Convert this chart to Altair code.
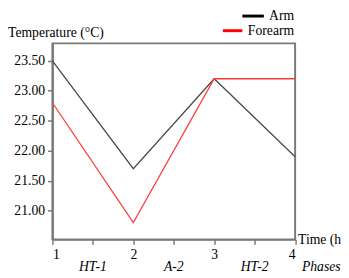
import altair as alt
import pandas as pd

times = [1, 2, 3, 4]
arm = [23.50, 21.70, 23.20, 21.90]
forearm = [22.80, 20.80, 23.20, 23.20]
series_names = ["Arm", "Forearm"]
series_colors = ["#4a4a4a", "#ff3b3b"]
phase_pos = [1.5, 2.5, 3.5]
phase_names = ["HT-1", "A-2", "HT-2"]
y_ticks = [21.0, 21.5, 22.0, 22.5, 23.0, 23.5]
x_ticks = [1, 1.5, 2, 2.5, 3, 3.5, 4]

rows = []
for t, a, f in zip(times, arm, forearm):
    rows.append({"time": t, "temp": a, "series": "Arm"})
    rows.append({"time": t, "temp": f, "series": "Forearm"})
df = pd.DataFrame(rows)

FONT = "Liberation Serif"
AX = "#7a7a7a"

xscale = alt.Scale(domain=[1, 4], nice=False, zero=False)
yscale = alt.Scale(domain=[20.52, 23.79], nice=False, zero=False)

lines = alt.Chart(df).mark_line(strokeWidth=1.3).encode(
    x=alt.X("time:Q", scale=xscale,
            axis=alt.Axis(values=x_ticks, title=None, grid=False,
                          labelExpr="datum.value % 1 == 0 ? datum.value : ''",
                          tickSize=5, labelPadding=4, domainColor=AX, tickColor=AX,
                          domainWidth=2, tickWidth=1.5,
                          labelFont=FONT, labelFontSize=14, labelColor="#000")),
    y=alt.Y("temp:Q", scale=yscale,
            axis=alt.Axis(values=y_ticks, format=".2f", title=None, grid=False,
                          tickSize=5, labelPadding=3, domainColor=AX, tickColor=AX,
                          domainWidth=2, tickWidth=1.5,
                          labelFont=FONT, labelFontSize=14, labelColor="#000")),
    color=alt.Color("series:N", scale=alt.Scale(domain=series_names, range=series_colors), legend=None),
)

phases = alt.Chart(pd.DataFrame({"p": phase_pos, "name": phase_names})).mark_text(
    font=FONT, fontSize=14, fontStyle="italic", baseline="middle", color="#000"
).encode(x=alt.X("p:Q", scale=xscale), y=alt.value(229), text="name:N")

normal_texts = pd.DataFrame({
    "label": ["Temperature (°C)", "Time (h)"],
    "px": [-45.5, 251.5],
    "py": [-11, 201],
})
italic_texts = pd.DataFrame({"label": ["Phases"], "px": [255.5], "py": [229]})

titles = alt.Chart(normal_texts).mark_text(
    font=FONT, fontSize=14, align="left", baseline="middle", color="#000"
).encode(x=alt.X("px:Q", scale=None), y=alt.Y("py:Q", scale=None), text="label:N")
titles_it = alt.Chart(italic_texts).mark_text(
    font=FONT, fontSize=14, fontStyle="italic", align="left", baseline="middle", color="#000"
).encode(x=alt.X("px:Q", scale=None), y=alt.Y("py:Q", scale=None), text="label:N")

leg = pd.DataFrame({
    "series": series_names,
    "ty": [-28, -13],
    "tx": [247.5, 247.5],
    "x1": [194.5, 174.5],
    "x2": [216.5, 194.5],
})
leg_text = alt.Chart(leg).mark_text(
    font=FONT, fontSize=14, align="right", baseline="middle", color="#000"
).encode(x=alt.X("tx:Q", scale=None), y=alt.Y("ty:Q", scale=None), text="series:N")
leg_rule = alt.Chart(leg).mark_rule(strokeWidth=3).encode(
    x=alt.X("x1:Q", scale=None), x2="x2:Q", y=alt.Y("ty:Q", scale=None),
    color=alt.Color("series:N", scale=alt.Scale(domain=series_names, range=["#000000", "#ff0000"]), legend=None),
)

chart = alt.layer(lines, phases, titles, titles_it, leg_rule, leg_text).resolve_scale(color="independent").properties(
    width=248.5, height=200.7,
    autosize=alt.AutoSizeParams(type="none"),
    padding={"left": 45.5, "top": 33, "right": 47, "bottom": 37},
    background="white",
).configure_view(stroke=AX, strokeWidth=2)

chart.save("out.html", embed_options={"renderer": "svg", "actions": False})
